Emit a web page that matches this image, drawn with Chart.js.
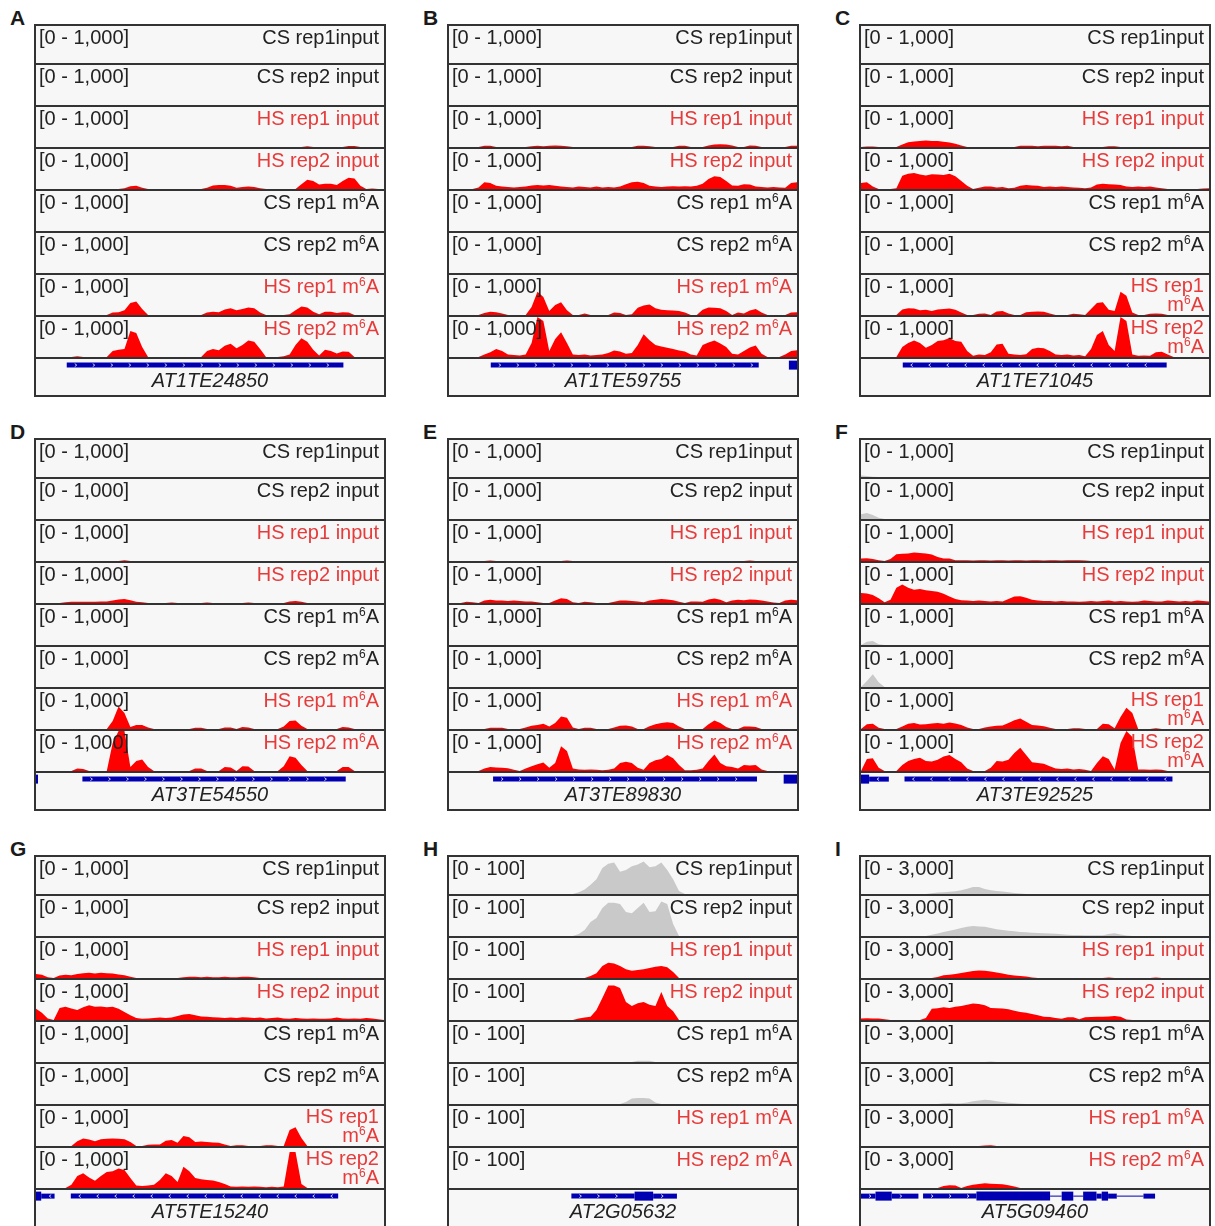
<!DOCTYPE html>
<html><head><meta charset="utf-8">
<script src="https://cdn.jsdelivr.net/npm/chart.js@4.4.1/dist/chart.umd.min.js"></script>
<style>
html,body{margin:0;padding:0;background:#fff;}
body{width:1215px;height:1226px;overflow:hidden;position:relative;font-family:"Liberation Sans",Arial,Helvetica,sans-serif;}
.letter{position:absolute;font-weight:bold;font-size:21px;line-height:24px;color:#1a1a1a;}
.panel{position:absolute;width:352px;height:373px;border:2px solid #333;box-sizing:border-box;background:#f7f7f7;overflow:hidden;}
.track{position:relative;border-bottom:2px solid #333;box-sizing:border-box;}
.track canvas,.gene canvas{position:absolute;left:0;top:0;}
.range{position:absolute;left:3px;top:1px;font-size:20px;line-height:20px;color:#222;white-space:nowrap;}
.name{position:absolute;right:5px;top:1px;font-size:20px;line-height:20px;text-align:right;white-space:nowrap;}
.name.wrap{line-height:19px;}
.name sup{font-size:12px;line-height:0;vertical-align:7px;}
.gene{position:relative;height:36px;}
.gname{position:absolute;left:0;right:0;top:11px;text-align:center;font-style:italic;font-size:20px;line-height:20px;color:#222;}
</style></head><body>
<script>
// ---------- data: coverage per 60 genomic bins ----------
const BINS = 60;
const TRACK_LABELS = ['CS rep1input','CS rep2 input','HS rep1 input','HS rep2 input','CS rep1 m6A','CS rep2 m6A','HS rep1 m6A','HS rep2 m6A'];
const TRACK_CONDITION = ['CS','CS','HS','HS','CS','CS','HS','HS'];
const PANELS = ['A','B','C','D','E','F','G','H','I'];
const RANGE_LABELS = {A:'[0 - 1,000]',B:'[0 - 1,000]',C:'[0 - 1,000]',D:'[0 - 1,000]',E:'[0 - 1,000]',F:'[0 - 1,000]',G:'[0 - 1,000]',H:'[0 - 100]',I:'[0 - 3,000]'};
const RANGE_MAX = {A:1000,B:1000,C:1000,D:1000,E:1000,F:1000,G:1000,H:100,I:3000};
const GENE_NAMES = {A:'AT1TE24850',B:'AT1TE59755',C:'AT1TE71045',D:'AT3TE54550',E:'AT3TE89830',F:'AT3TE92525',G:'AT5TE15240',H:'AT2G05632',I:'AT5G09460'};
const GENE_STRAND = {A:'+',B:'+',C:'-',D:'+',E:'+',F:'-',G:'-',H:'+',I:'+'};

// Panel A
const A_cs1_in = [];
const A_cs2_in = [];
const A_hs1_in = [0,0,0,0,0,0,0,0,0,0, 0,0,0,0,0,0,0,0,0,0, 0,0,0,0,0,0,0,0,0,0, 0,0,0,0,0,0,0,0,0,0, 0,0,0,0,0,0,20,0,0,0, 0,0,0,25,25,0,0,0,0,0];
const A_hs2_in = [0,0,0,0,0,0,0,0,0,0, 0,0,0,0,0,20,70,80,30,0, 0,0,0,0,0,0,0,0,0,30, 90,100,100,80,30,50,60,50,20,0, 0,0,0,0,0,120,230,200,110,130, 130,100,200,280,260,80,0,10,0,0];
const A_cs1_m6a = [];
const A_cs2_m6a = [];
const A_hs1_m6a = [0,0,0,0,0,0,0,0,0,0, 0,0,0,60,70,120,300,340,150,0, 0,0,0,0,0,0,0,0,0,60, 80,70,140,170,120,150,190,170,60,0, 0,0,0,20,120,210,190,80,20,80, 80,50,70,60,0,0,0,0,0,0];
const A_hs2_m6a = [0,0,0,0,0,0,0,20,0,0, 0,0,0,150,180,200,650,600,250,0, 0,0,0,0,0,0,0,0,0,150, 200,170,280,330,220,300,410,380,200,0, 0,0,20,60,300,470,380,180,40,180, 150,90,140,130,0,0,0,0,0,0];
const A_gene = [[5.3,53,'te']];

// Panel B
const B_cs1_in = [];
const B_cs2_in = [];
const B_hs1_in = [0,0,0,0,0,0,30,30,0,0, 0,0,0,0,20,30,20,30,40,30, 20,0,0,0,0,0,0,0,0,0, 0,0,30,30,20,0,0,0,0,30, 30,0,0,0,40,60,70,60,40,0, 0,40,30,0,0,0,0,0,30,30];
const B_hs2_in = [0,0,0,0,0,40,170,150,80,60, 50,40,50,60,90,100,90,100,80,60, 50,40,60,50,40,60,40,50,40,60, 120,170,180,150,80,60,50,60,70,60, 70,60,80,130,250,320,300,200,90,80, 120,110,60,50,40,50,40,30,150,170];
const B_cs1_m6a = [];
const B_cs2_m6a = [];
const B_hs1_m6a = [0,0,0,0,0,0,50,80,70,40, 0,0,0,0,200,580,450,100,250,320, 120,0,0,40,0,0,0,0,60,50, 0,20,180,240,260,170,130,120,110,100, 60,0,0,130,190,180,170,100,0,60, 40,110,150,60,0,0,0,0,60,70];
const B_hs2_m6a = [0,0,0,0,0,0,60,120,200,150, 60,50,40,60,350,1000,900,150,450,620, 350,60,50,60,40,50,60,100,160,140, 80,100,300,570,420,300,260,230,200,160, 140,60,40,300,360,410,340,250,80,60, 150,240,290,80,0,0,0,60,150,170];
const B_gene = [[7.2,53.4,'te'],[58.6,60,'cds']];

// Panel C
const C_cs1_in = [];
const C_cs2_in = [];
const C_hs1_in = [0,10,10,0,0,0,0,60,120,140, 150,160,150,150,130,110,80,40,0,0, 0,0,0,0,0,0,0,30,30,30, 20,30,30,30,20,30,0,0,0,0, 0,0,20,20,0,0,0,0,0,0, 0,0,0,0,0,0,0,0,0,0];
const C_hs2_in = [150,170,60,0,0,0,20,330,380,400, 360,340,370,360,350,380,320,200,80,0, 30,60,60,40,50,20,30,80,100,90, 80,50,60,50,60,50,40,30,20,40, 110,130,120,110,100,60,50,60,50,60, 40,20,0,0,0,0,0,0,10,20];
const C_cs1_m6a = [];
const C_cs2_m6a = [];
const C_hs1_m6a = [0,0,0,0,0,0,0,140,170,160, 120,130,100,140,150,160,130,60,0,0, 30,40,0,90,100,40,0,0,70,80, 90,80,40,0,0,0,30,20,0,150, 300,320,130,100,580,480,60,0,0,30, 40,30,0,0,0,0,0,0,0,0];
const C_hs2_m6a = [0,0,0,0,0,0,0,250,350,410, 350,230,300,400,420,475,400,380,150,30, 60,50,120,310,330,80,60,50,70,200, 230,220,150,60,50,60,40,50,20,200, 550,650,300,150,1000,900,60,30,40,30, 120,130,60,0,0,0,0,0,0,0];
const C_gene = [[7.2,52.7,'te']];

// Panel D
const D_cs1_in = [];
const D_cs2_in = [];
const D_hs1_in = [0,0,0,0,0,0,0,0,0,0, 0,0,0,0,0,20,0];
const D_hs2_in = [0,0,0,0,0,20,30,30,30,30, 30,40,40,60,90,100,70,30,20,0, 0,0,0,10,0,0,0,0,0,10, 0,0,0,0,0,0,10,0,0,0, 0,0,0,40,50,30,0,0,0,0, 0,0,0,0,0,0,0,0,0,0];
const D_cs1_m6a = [];
const D_cs2_m6a = [];
const D_hs1_m6a = [0,0,0,0,0,0,0,0,0,0, 0,0,0,200,560,400,50,100,100,40, 0,0,0,0,0,0,0,30,30,0, 0,0,40,40,0,50,40,0,0,0, 0,0,60,200,210,80,0,0,0,0, 0,0,50,40,0,0,0,0,0,0];
const D_hs2_m6a = [0,0,0,0,0,0,0,60,50,0, 0,0,0,700,1000,1000,100,250,290,100, 0,0,0,0,0,0,0,60,60,0, 0,0,100,90,0,120,110,0,0,0, 0,0,120,370,330,150,0,0,0,0, 0,0,100,100,0,0,0,0,0,0];
const D_gene = [[0,0.35,'cds'],[8,53.4,'te']];

// Panel E
const E_cs1_in = [];
const E_cs2_in = [];
const E_hs1_in = [0,0,0,0,0,0,0,15,0,0, 0,0,0,0,0,0,0,0,0,0, 15,0,0,0,0,0,0,0,0,0, 0,0,0,0,0,0,0,0,0,0, 0,0,0,0,0,0,0,0,0,0, 0,15,0];
const E_hs2_in = [0,0,0,30,20,0,60,80,60,60, 50,60,50,40,40,20,0,0,60,120, 100,20,0,30,20,0,0,0,30,60, 60,50,40,20,60,80,100,90,70,30, 0,40,40,30,90,110,80,20,60,80, 70,90,80,60,40,10,0,60,80,70];
const E_cs1_m6a = [];
const E_cs2_m6a = [];
const E_hs1_m6a = [0,0,0,0,0,0,0,30,30,30, 0,0,0,40,80,100,130,60,150,310, 280,40,0,30,30,0,0,0,40,80, 90,60,0,0,70,120,150,170,150,60, 0,0,0,0,120,210,150,50,0,0, 60,60,50,0,0,0,0,0,0,0];
const E_hs2_m6a = [0,0,0,0,0,0,60,100,90,80, 70,30,0,60,120,170,210,80,200,620, 500,60,40,30,40,30,20,30,60,200, 230,200,80,30,200,270,300,400,320,150, 20,20,30,60,250,410,200,120,100,60, 150,140,150,40,0,0,0,0,0,0];
const E_gene = [[7.6,53.1,'te'],[57.7,60,'cds']];

// Panel F
const F_cs1_in = [40,30,10,0];
const F_cs2_in = [120,150,100,30,0];
const F_hs1_in = [60,70,50,20,0,50,170,180,190,210, 200,190,160,100,60,60,20,20,20,10, 20,20,10,20,20,10,20,20,10,20, 20,10,20,20,10,20,20,20,10,0, 0,0,0,0,0,0,0,0,0,0, 0,0,0,0,0,0,0,0,0,0];
const F_hs2_in = [250,240,200,120,20,80,380,460,380,330, 350,320,300,280,230,160,100,70,60,50, 60,50,40,50,40,100,160,170,130,80, 60,50,50,40,50,40,40,30,40,50, 40,50,60,40,50,40,30,40,60,50, 40,40,60,50,40,50,40,60,50,40];
const F_cs1_m6a = [0,80,100,20,0];
const F_cs2_m6a = [0,150,320,120,0];
const F_hs1_m6a = [0,120,130,30,0,0,0,60,130,150, 110,120,140,150,130,160,140,100,40,0, 0,40,60,80,90,150,220,260,180,100, 90,70,30,0,0,0,20,20,0,0, 0,130,120,20,300,530,400,0,0,0, 20,0,0,0,0,0,0,0,0,0];
const F_hs2_m6a = [0,300,320,80,0,0,0,150,250,300, 330,250,240,280,360,400,300,220,60,0, 0,0,80,250,240,280,450,580,400,220, 200,180,120,60,50,60,40,50,30,0, 200,370,300,40,700,1000,850,40,40,30, 40,30,0,0,0,0,0,0,0,0];
const F_gene = [[0,1.4,'cds'],[1.4,4.8,'utr'],[7.5,53.7,'te']];

// Panel G
const G_cs1_in = [];
const G_cs2_in = [];
const G_hs1_in = [100,80,20,0,60,80,70,100,120,130, 110,130,120,110,90,70,30,0,0,0, 0,0,0,0,0,20,30,30,20,30, 20,20,30,20,20,30,30,20,0,0, 0,0,0,0,0,0,0,0,0,0, 0,0,0,0,0,0,0,0,0,0];
const G_hs2_in = [280,180,40,0,300,330,290,250,320,370, 330,340,320,330,280,200,120,50,30,40, 50,60,50,60,100,140,150,120,90,80, 70,60,50,60,50,70,60,50,60,40, 50,60,40,30,50,40,30,40,30,30, 40,60,40,30,40,30,50,40,20,0];
const G_cs1_m6a = [];
const G_cs2_m6a = [];
const G_hs1_m6a = [0,0,0,0,0,0,0,120,190,160, 120,170,180,190,180,170,100,0,0,30, 40,40,130,150,80,250,220,100,110,100, 90,80,40,0,20,20,0,0,0,20, 20,0,0,400,470,200,0,0,0,0, 0,0,0,0,0,0,0,0,0,0];
const G_hs2_m6a = [0,0,0,0,0,0,80,300,370,260, 180,300,400,420,490,450,250,60,50,60, 80,200,370,300,150,530,420,250,220,200, 190,150,100,40,30,40,30,40,30,20, 30,20,40,900,900,100,0,0,0,0, 0,0,0,0,0,0,0,0,0,0];
const G_gene = [[0,0.9,'cds'],[0.9,3.2,'utr'],[6,52.1,'te']];

// Panel H (scale 0-100)
const H_cs1_in = [0,0,0,0,0,0,0,0,0,0, 0,0,0,0,0,0,0,0,0,0, 0,0,5,12,25,40,70,82,85,60, 65,75,80,88,72,75,85,65,40,8, 0];
const H_cs2_in = [0,0,0,0,0,0,0,0,0,0, 0,0,0,0,0,0,0,0,0,0, 0,0,5,15,35,45,70,83,83,80, 60,57,70,83,60,62,86,80,30,0];
const H_hs1_in = [0,0,0,0,0,0,0,0,0,0, 0,0,0,0,0,0,0,0,0,0, 0,0,0,0,5,12,30,38,36,30, 22,18,20,22,25,28,30,27,15,0];
const H_hs2_in = [0,0,0,0,0,0,0,0,0,0, 0,0,0,0,0,0,0,0,0,0, 0,0,4,6,8,25,55,86,86,80, 45,35,42,45,38,35,70,35,22,0];
const H_cs1_m6a = [0,0,0,0,0,0,0,0,0,0, 0,0,0,0,0,0,0,0,0,0, 0,0,0,0,0,0,0,0,0,0, 0,0,3,3,3,0];
const H_cs2_m6a = [0,0,0,0,0,0,0,0,0,0, 0,0,0,0,0,0,0,0,0,0, 0,0,0,0,0,0,0,0,0,0, 5,14,15,15,14,4,0];
const H_hs1_m6a = [];
const H_hs2_m6a = [];
const H_gene = [[21.1,32,'utr'],[32,35.2,'cds'],[35.2,39.3,'utr']];

// Panel I (scale 0-3000)
const I_cs1_in = [0,0,0,0,0,0,0,0,0,0, 0,0,60,120,150,180,220,300,420,560, 560,400,300,250,200,150,80,40,0,0];
const I_cs2_in = [0,0,0,0,0,0,0,0,0,0, 0,0,100,180,300,400,480,600,700,750, 720,700,600,500,450,400,350,300,280,250, 220,200,180,160,130,100,80,70,60,50, 50,60,150,200,120,30,0];
const I_hs1_in = [0,0,0,0,0,0,0,0,0,0, 0,0,0,80,200,250,300,380,450,520, 560,540,480,420,330,250,180,150,120,40, 0,0,0,0,0,0,0,0,0,0, 0,0,40,0,0,0,0,0,0,0, 40,0];
const I_hs2_in = [120,130,110,120,60,0,0,0,0,0, 0,150,850,880,950,900,1000,1050,1150,1230, 1200,1100,900,880,860,800,700,600,550,450, 350,250,220,150,100,200,200,60,200,220, 250,240,260,300,250,30,0];
const I_cs1_m6a = [0,0,0,0,0,0,0,0,0,0, 0,0,0,0,0,0,0,0,0,0, 0,0,30,0];
const I_cs2_m6a = [0,0,0,0,0,0,0,0,0,0, 0,0,0,0,60,80,40,60,120,200, 260,320,280,200,150,100,60,20,0];
const I_hs1_m6a = [0,0,0,0,0,0,0,0,0,0, 0,0,0,0,0,0,0,0,0,0, 0,40,50,0];
const I_hs2_m6a = [0,0,0,0,0,0,0,0,0,0, 0,0,0,0,150,200,180,0,150,250, 300,350,320,300,280,200,120,0];
const I_gene = [[32.6,34.6,'intron'],[36.6,38.3,'intron'],[44.1,48.7,'intron'],[0,2.5,'utr'],[2.5,5.3,'cds'],[5.3,9.9,'utr'],[10.7,19.9,'utr'],[19.9,32.6,'cds'],[34.6,36.6,'cds'],[38.3,40.6,'cds'],[40.6,41.5,'utr'],[41.5,42.6,'cds'],[42.6,44.1,'utr'],[48.7,50.7,'utr']];

const TRACKS = {
  A:[A_cs1_in,A_cs2_in,A_hs1_in,A_hs2_in,A_cs1_m6a,A_cs2_m6a,A_hs1_m6a,A_hs2_m6a],
  B:[B_cs1_in,B_cs2_in,B_hs1_in,B_hs2_in,B_cs1_m6a,B_cs2_m6a,B_hs1_m6a,B_hs2_m6a],
  C:[C_cs1_in,C_cs2_in,C_hs1_in,C_hs2_in,C_cs1_m6a,C_cs2_m6a,C_hs1_m6a,C_hs2_m6a],
  D:[D_cs1_in,D_cs2_in,D_hs1_in,D_hs2_in,D_cs1_m6a,D_cs2_m6a,D_hs1_m6a,D_hs2_m6a],
  E:[E_cs1_in,E_cs2_in,E_hs1_in,E_hs2_in,E_cs1_m6a,E_cs2_m6a,E_hs1_m6a,E_hs2_m6a],
  F:[F_cs1_in,F_cs2_in,F_hs1_in,F_hs2_in,F_cs1_m6a,F_cs2_m6a,F_hs1_m6a,F_hs2_m6a],
  G:[G_cs1_in,G_cs2_in,G_hs1_in,G_hs2_in,G_cs1_m6a,G_cs2_m6a,G_hs1_m6a,G_hs2_m6a],
  H:[H_cs1_in,H_cs2_in,H_hs1_in,H_hs2_in,H_cs1_m6a,H_cs2_m6a,H_hs1_m6a,H_hs2_m6a],
  I:[I_cs1_in,I_cs2_in,I_hs1_in,I_hs2_in,I_cs1_m6a,I_cs2_m6a,I_hs1_m6a,I_hs2_m6a]
};
const GENES = {A:A_gene,B:B_gene,C:C_gene,D:D_gene,E:E_gene,F:F_gene,G:G_gene,H:H_gene,I:I_gene};

// ---------- layout & style ----------
const LAYOUT = {A:[34,24],B:[447,24],C:[859,24],D:[34,438],E:[447,438],F:[859,438],G:[34,855],H:[447,855],I:[859,855]};
const WRAP_M6A = {C:true,F:true,G:true};
const COLORS = {CS:{fill:'#c9c9c9',text:'#222222'},HS:{fill:'#ff0000',text:'#e63b3b'}};
const GENE_BLUE = 'rgb(0,0,178)';
const GENE_WIDTH = {te:5,utr:5,cds:9,intron:1};
const GENE_Y = 0.83;
const INNER_W = 348;

Chart.defaults.animation = false;
Chart.defaults.events = [];
Chart.defaults.plugins.legend.display = false;
Chart.defaults.plugins.tooltip.enabled = false;

const chevronPlugin = {
  id:'chevrons',
  afterDatasetsDraw(chart, args, opts){
    if(!opts || !opts.features) return;
    const ctx = chart.ctx, xs = chart.scales.x, ys = chart.scales.y;
    const y = ys.getPixelForValue(GENE_Y);
    const d = opts.strand === '+' ? 1 : -1;
    ctx.save();
    ctx.strokeStyle = '#ffffff'; ctx.lineWidth = 0.8;
    opts.features.forEach(f=>{
      if(f[2] !== 'te' && f[2] !== 'utr') return;
      const x0 = xs.getPixelForValue(f[0]), x1 = xs.getPixelForValue(f[1]);
      for(let x = x0 + 9; x < x1 - 4; x += 18){
        ctx.beginPath();
        ctx.moveTo(x - d*1, y - 1.5); ctx.lineTo(x + d*1, y); ctx.lineTo(x - d*1, y + 1.5);
        ctx.stroke();
      }
    });
    ctx.restore();
  }
};

function labelHTML(text, wrap){
  let t = text.replace('m6A','m<sup>6</sup>A');
  if(wrap && text.startsWith('HS') && text.endsWith('m6A')) t = t.replace(' m<sup>','<br>m<sup>');
  return t;
}

PANELS.forEach(id=>{
  const [L,T] = LAYOUT[id];
  const letter = document.createElement('div');
  letter.className = 'letter'; letter.textContent = id;
  letter.style.left = (L-24)+'px'; letter.style.top = (T-18)+'px';
  document.body.appendChild(letter);

  const panel = document.createElement('div');
  panel.className = 'panel'; panel.style.left = L+'px'; panel.style.top = T+'px';
  document.body.appendChild(panel);

  TRACKS[id].forEach((arr,k)=>{
    const h = k===0 ? 39 : 42;
    const tr = document.createElement('div');
    tr.className = 'track'; tr.style.height = h+'px';
    panel.appendChild(tr);
    const cv = document.createElement('canvas');
    cv.width = INNER_W; cv.height = h-2;
    cv.style.width = INNER_W+'px'; cv.style.height = (h-2)+'px';
    tr.appendChild(cv);
    const cond = TRACK_CONDITION[k];
    const r = document.createElement('div');
    r.className = 'range'; r.textContent = RANGE_LABELS[id];
    tr.appendChild(r);
    const n = document.createElement('div');
    const wrap = WRAP_M6A[id] && k>=6;
    n.className = 'name' + (wrap ? ' wrap' : '');
    n.style.color = COLORS[cond].text;
    n.innerHTML = labelHTML(TRACK_LABELS[k], wrap);
    tr.appendChild(n);
    new Chart(cv, {
      type:'line',
      data:{datasets:[{
        data: arr.map((v,i)=>({x:i,y:v})),
        fill:'origin', backgroundColor: COLORS[cond].fill,
        borderWidth:0, pointRadius:0, tension:0
      }]},
      options:{
        responsive:false, devicePixelRatio:1, layout:{padding:0},
        scales:{
          x:{type:'linear',min:0,max:BINS-1,display:false},
          y:{min:0,max:RANGE_MAX[id],display:false}
        }
      }
    });
  });

  const g = document.createElement('div');
  g.className = 'gene';
  panel.appendChild(g);
  const gc = document.createElement('canvas');
  gc.width = INNER_W; gc.height = 36;
  gc.style.width = INNER_W+'px'; gc.style.height = '36px';
  g.appendChild(gc);
  const gn = document.createElement('div');
  gn.className = 'gname'; gn.textContent = GENE_NAMES[id];
  g.appendChild(gn);
  new Chart(gc, {
    type:'line',
    data:{datasets: GENES[id].map(f=>({
      data:[{x:f[0],y:GENE_Y},{x:f[1],y:GENE_Y}],
      borderColor: GENE_BLUE, borderWidth: GENE_WIDTH[f[2]],
      borderCapStyle:'butt', pointRadius:0, fill:false, tension:0
    }))},
    options:{
      responsive:false, devicePixelRatio:1, layout:{padding:0},
      scales:{
        x:{type:'linear',min:0,max:BINS,display:false},
        y:{min:0,max:1,display:false}
      },
      plugins:{chevrons:{features:GENES[id], strand:GENE_STRAND[id]}}
    },
    plugins:[chevronPlugin]
  });
});
</script>
</body></html>
